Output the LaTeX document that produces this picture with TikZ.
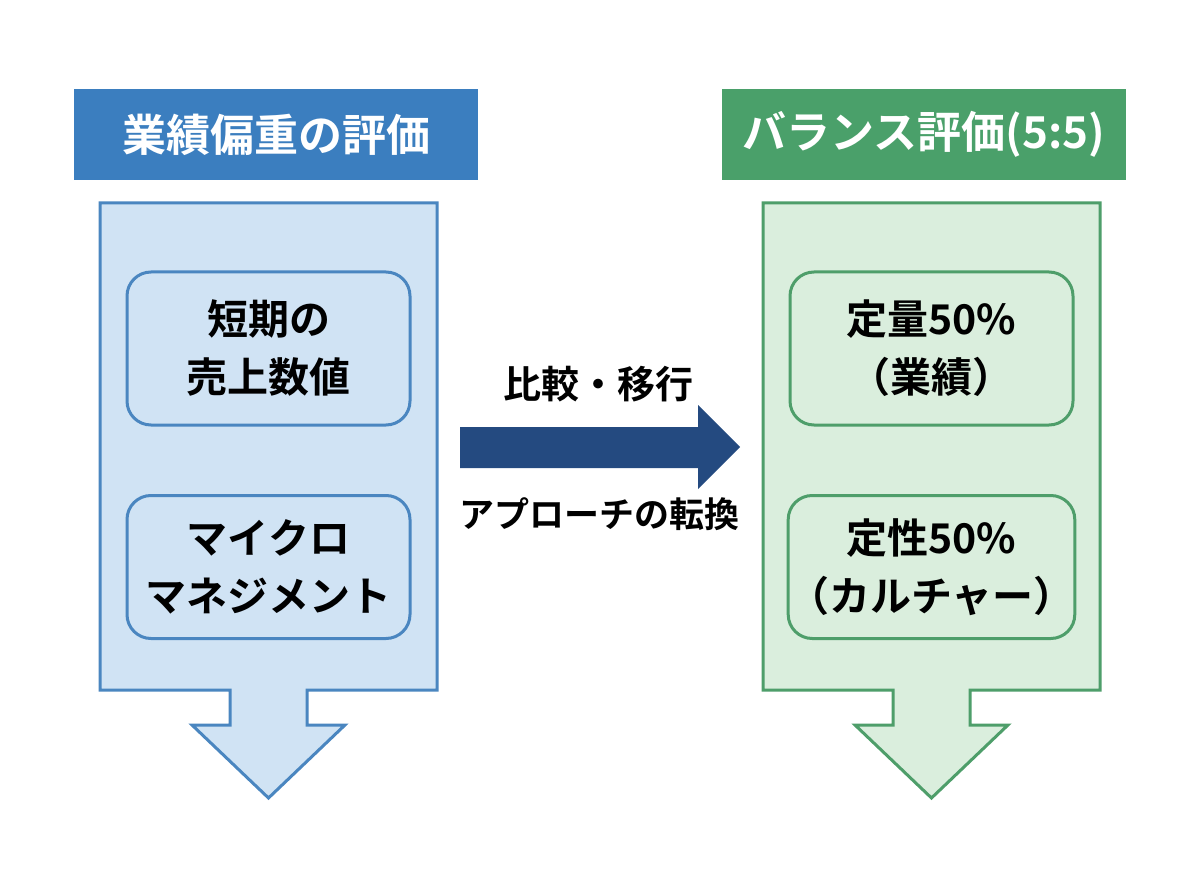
\documentclass[tikz,border=0pt]{standalone}
\usepackage{fontspec}
\setmainfont{Noto Sans CJK JP}[BoldFont={Noto Sans CJK JP Bold}]
\definecolor{bhead}{RGB}{59,126,191}
\definecolor{bfill}{RGB}{208,227,244}
\definecolor{bline}{RGB}{74,134,192}
\definecolor{ghead}{RGB}{74,160,106}
\definecolor{gfill}{RGB}{218,238,221}
\definecolor{gline}{RGB}{78,158,106}
\definecolor{navy}{RGB}{36,74,128}
\tikzset{
  headbox/.style={draw=none, minimum width=404pt, minimum height=91pt, inner sep=0pt,
    text=white, font=\fontsize{44}{50}\selectfont\bfseries},
  itembox/.style={rounded corners=24pt, line width=3pt, minimum width=283pt, inner sep=0pt,
    align=center, font=\fontsize{41}{58}\selectfont\bfseries, text=black},
  panel/.style={line width=3pt, line join=miter},
  midtext/.style={font=\fontsize{38}{44}\selectfont\bfseries, text=black, inner sep=0pt},
}
\begin{document}
\begin{tikzpicture}[x=1pt,y=-1pt]
\useasboundingbox[fill=white] (0,0) rectangle (1200,896);
% left panel
\draw[panel, draw=bline, fill=bfill] (100,203) -- (437,203) -- (437,690) -- (307,690) -- (307,725) -- (345,725) -- (268.5,798) -- (192,725) -- (230,725) -- (230,690) -- (100,690) -- cycle;
% right panel
\draw[panel, draw=gline, fill=gfill] (763,203) -- (1100,203) -- (1100,690) -- (970,690) -- (970,725) -- (1008,725) -- (931.5,798) -- (855,725) -- (893,725) -- (893,690) -- (763,690) -- cycle;
% headers
\node[headbox, fill=bhead] (lhead) at (276,134.5) {業績偏重の評価};
\node[headbox, fill=ghead] (rhead) at (924,134.5) {バランス評価(5:5)};
% items
\node[itembox, draw=bline, fill=bfill, minimum height=153pt] (l1) at (268.5,348.5) {短期の\\売上数値};
\node[itembox, draw=bline, fill=bfill, minimum height=143pt] (l2) at (268.5,567) {マイクロ\\マネジメント};
\node[itembox, draw=gline, fill=gfill, minimum height=153pt] (r1) at (931.5,348.5) {定量50\%\\（業績）};
\node[itembox, draw=gline, fill=gfill, minimum height=143pt] (r2) at (931.5,567) {定性50\%\\（カルチャー）};
% center arrow
\fill[navy] (460,427) -- (698,427) -- (698,405) -- (740,447) -- (698,489) -- (698,468) -- (460,468) -- cycle;
\node[midtext] (t1) at (598,384) {比較・移行};
\node[midtext, font=\fontsize{35}{40}\selectfont\bfseries] (t2) at (599,514) {アプローチの転換};
\end{tikzpicture}
\end{document}
